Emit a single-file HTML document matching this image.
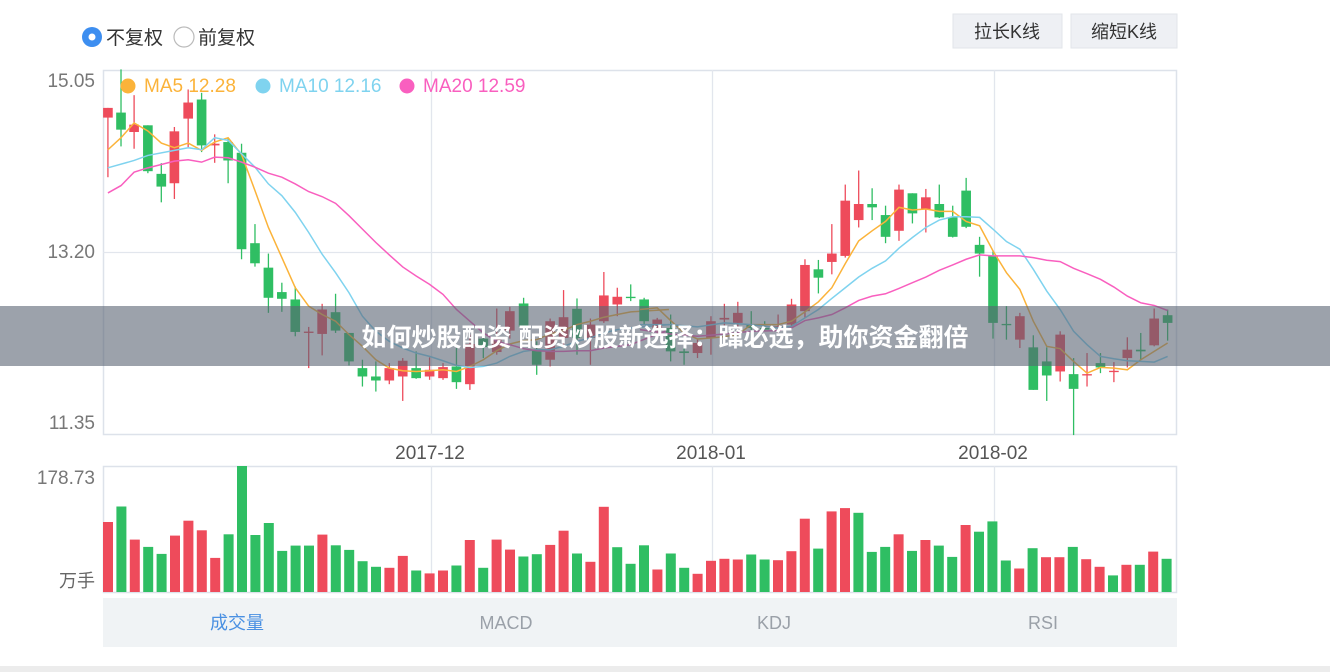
<!DOCTYPE html>
<html><head><meta charset="utf-8"><style>
body{margin:0;width:1330px;height:672px;background:#fff;overflow:hidden;font-family:"Liberation Sans","Noto Sans CJK SC",sans-serif;}
svg{position:absolute;left:0;top:0}
.r{fill:#ee4b5b;stroke:#ee4b5b}
.g{fill:#2fbe63;stroke:#2fbe63}
line{vector-effect:non-scaling-stroke;stroke-width:1.3}
rect.c{vector-effect:non-scaling-stroke;stroke-width:0}
polyline{fill:none;vector-effect:non-scaling-stroke;stroke-width:1.5}
</style></head><body>
<svg width="1330" height="672" viewBox="0 0 1330 672" font-family="Liberation Sans, Noto Sans CJK SC, sans-serif">
<circle cx="92" cy="37" r="10" fill="#3d8ef0"/><circle cx="92" cy="37" r="3.5" fill="#fff"/>
<text x="106" y="44" font-size="19" fill="#333">不复权</text>
<circle cx="184" cy="37" r="10" fill="#fff" stroke="#bbb" stroke-width="1.2"/>
<text x="198" y="44" font-size="19" fill="#333">前复权</text>
<rect x="953" y="14" width="109" height="34" fill="#eef0f4" stroke="#e2e5ea"/>
<text x="1007" y="38" font-size="18" fill="#333" text-anchor="middle">拉长K线</text>
<rect x="1071" y="14" width="106" height="34" fill="#eef0f4" stroke="#e2e5ea"/>
<text x="1124" y="38" font-size="18" fill="#333" text-anchor="middle">缩短K线</text>
<rect x="103.5" y="70.5" width="1073" height="364" fill="none" stroke="#dde2ea" stroke-width="1.5"/>
<line x1="103" y1="252.5" x2="1177" y2="252.5" stroke="#e2e6ed"/>
<line x1="431.5" y1="70" x2="431.5" y2="435" stroke="#e2e6ed"/>
<line x1="712.5" y1="70" x2="712.5" y2="435" stroke="#e2e6ed"/>
<line x1="994.5" y1="70" x2="994.5" y2="435" stroke="#e2e6ed"/>
<g font-size="19" fill="#777" text-anchor="end">
<text x="95" y="87">15.05</text><text x="95" y="258">13.20</text><text x="95" y="429">11.35</text>
</g>
<g font-size="19" fill="#555" text-anchor="middle">
<text x="430" y="459">2017-12</text><text x="711" y="459">2018-01</text><text x="993" y="459">2018-02</text>
</g>
<g transform="translate(100,60) scale(0.3444,0.3349)">
<line class="r" x1="23" x2="23" y1="143" y2="350"/><rect class="r c" x="9" y="143" width="28" height="29"/>
<line class="g" x1="61" x2="61" y1="28" y2="258"/><rect class="g c" x="47" y="157" width="28" height="51"/>
<line class="r" x1="99" x2="99" y1="105" y2="265"/><rect class="r c" x="85" y="193" width="28" height="22"/>
<line class="g" x1="139" x2="139" y1="195" y2="338"/><rect class="g c" x="125" y="195" width="28" height="137"/>
<line class="g" x1="178" x2="178" y1="308" y2="425"/><rect class="g c" x="164" y="340" width="28" height="38"/>
<line class="r" x1="216" x2="216" y1="200" y2="415"/><rect class="r c" x="202" y="213" width="28" height="155"/>
<line class="r" x1="256" x2="256" y1="88" y2="260"/><rect class="r c" x="242" y="127" width="28" height="48"/>
<line class="g" x1="295" x2="295" y1="98" y2="275"/><rect class="g c" x="281" y="118" width="28" height="137"/>
<line class="r" x1="333" x2="333" y1="222" y2="307"/><rect class="r c" x="319" y="250" width="28" height="5"/>
<line class="g" x1="372" x2="372" y1="232" y2="368"/><rect class="g c" x="358" y="245" width="28" height="55"/>
<line class="g" x1="411" x2="411" y1="250" y2="595"/><rect class="g c" x="397" y="277" width="28" height="288"/>
<line class="g" x1="450" x2="450" y1="490" y2="617"/><rect class="g c" x="436" y="547" width="28" height="60"/>
<line class="g" x1="489" x2="489" y1="578" y2="755"/><rect class="g c" x="475" y="620" width="28" height="90"/>
<line class="g" x1="528" x2="528" y1="665" y2="752"/><rect class="g c" x="514" y="693" width="28" height="20"/>
<line class="g" x1="567" x2="567" y1="677" y2="825"/><rect class="g c" x="553" y="715" width="28" height="97"/>
<line class="r" x1="606" x2="606" y1="797" y2="920"/><rect class="r c" x="592" y="811" width="28" height="4"/>
<line class="r" x1="645" x2="645" y1="728" y2="882"/><rect class="r c" x="631" y="745" width="28" height="73"/>
<line class="g" x1="684" x2="684" y1="698" y2="815"/><rect class="g c" x="670" y="753" width="28" height="55"/>
<line class="g" x1="723" x2="723" y1="815" y2="912"/><rect class="g c" x="709" y="815" width="28" height="85"/>
<line class="g" x1="762" x2="762" y1="895" y2="975"/><rect class="g c" x="748" y="920" width="28" height="25"/>
<line class="g" x1="801" x2="801" y1="900" y2="990"/><rect class="g c" x="787" y="945" width="28" height="12"/>
<line class="r" x1="840" x2="840" y1="905" y2="968"/><rect class="r c" x="826" y="920" width="28" height="37"/>
<line class="r" x1="879" x2="879" y1="890" y2="1018"/><rect class="r c" x="865" y="898" width="28" height="47"/>
<line class="g" x1="918" x2="918" y1="870" y2="952"/><rect class="g c" x="904" y="920" width="28" height="30"/>
<line class="r" x1="957" x2="957" y1="888" y2="955"/><rect class="r c" x="943" y="925" width="28" height="20"/>
<line class="r" x1="996" x2="996" y1="905" y2="955"/><rect class="r c" x="982" y="917" width="28" height="33"/>
<line class="g" x1="1035" x2="1035" y1="860" y2="982"/><rect class="g c" x="1021" y="915" width="28" height="47"/>
<line class="r" x1="1074" x2="1074" y1="820" y2="985"/><rect class="r c" x="1060" y="848" width="28" height="120"/>
<line class="g" x1="1113" x2="1113" y1="830" y2="890"/><rect class="g c" x="1099" y="832" width="28" height="25"/>
<line class="r" x1="1152" x2="1152" y1="742" y2="880"/><rect class="r c" x="1138" y="835" width="28" height="37"/>
<line class="r" x1="1190" x2="1190" y1="737" y2="832"/><rect class="r c" x="1176" y="750" width="28" height="58"/>
<line class="g" x1="1230" x2="1230" y1="710" y2="800"/><rect class="g c" x="1216" y="727" width="28" height="70"/>
<line class="g" x1="1268" x2="1268" y1="840" y2="940"/><rect class="g c" x="1254" y="868" width="28" height="42"/>
<line class="r" x1="1307" x2="1307" y1="772" y2="915"/><rect class="r c" x="1293" y="780" width="28" height="115"/>
<line class="r" x1="1346" x2="1346" y1="687" y2="850"/><rect class="r c" x="1332" y="768" width="28" height="62"/>
<line class="g" x1="1385" x2="1385" y1="712" y2="880"/><rect class="g c" x="1371" y="743" width="28" height="87"/>
<line class="r" x1="1424" x2="1424" y1="772" y2="910"/><rect class="r c" x="1410" y="790" width="28" height="40"/>
<line class="r" x1="1463" x2="1463" y1="633" y2="785"/><rect class="r c" x="1449" y="703" width="28" height="77"/>
<line class="r" x1="1502" x2="1502" y1="680" y2="765"/><rect class="r c" x="1488" y="707" width="28" height="23"/>
<line class="g" x1="1541" x2="1541" y1="670" y2="720"/><rect class="g c" x="1527" y="707" width="28" height="4"/>
<polyline stroke="#fbb33a" points="23,268 61,232 99,188 139,212 178,248 216,262 256,248 295,270 333,245 372,232 411,282 450,390 489,500 528,590 567,680 606,735 645,760 684,780 723,820 762,855 801,895 840,920 879,928 918,930 957,928 996,925 1035,930 1074,915 1113,895 1152,868 1190,848 1230,838 1268,835 1307,818 1346,808 1385,790 1424,780 1463,768 1502,760 1541,752 1652,745"/>
<polyline stroke="#7fd3ef" points="23,322 99,300 139,285 216,270 256,262 295,268 333,232 372,240 411,280 450,320 489,370 528,405 567,455 606,515 645,580 684,635 723,695 762,765 801,810 840,840 879,860 918,875 957,885 996,898 1035,912 1074,918 1113,915 1152,905 1190,885 1230,870 1268,865 1307,865 1346,855 1385,840 1424,830 1463,815 1502,805 1541,800 1652,790"/>
<polyline stroke="#f95fbf" points="23,397 61,375 99,335 139,322 178,312 216,302 256,298 295,305 333,290 372,292 411,305 450,320 489,338 528,350 567,370 606,393 645,408 684,428 723,465 762,505 801,545 840,582 879,618 918,645 957,670 996,700 1035,745 1074,780 1113,815 1152,840 1190,850 1230,862 1268,868 1307,870 1346,870 1385,868 1424,868 1463,860 1502,855 1541,850 1652,805"/>
</g>
<g transform="translate(640,60) scale(0.3444,0.3349)">
<line class="g" x1="12" x2="12" y1="710" y2="790"/><rect class="g c" x="-2" y="715" width="28" height="65"/>
<line class="r" x1="50" x2="50" y1="770" y2="830"/><rect class="r c" x="36" y="775" width="28" height="25"/>
<line class="g" x1="89" x2="89" y1="760" y2="900"/><rect class="g c" x="75" y="800" width="28" height="70"/>
<line class="g" x1="128" x2="128" y1="855" y2="910"/><rect class="g c" x="114" y="870" width="28" height="5"/>
<line class="r" x1="167" x2="167" y1="835" y2="890"/><rect class="r c" x="153" y="845" width="28" height="30"/>
<line class="r" x1="206" x2="206" y1="765" y2="880"/><rect class="r c" x="192" y="780" width="28" height="50"/>
<line class="r" x1="245" x2="245" y1="728" y2="795"/><rect class="r c" x="231" y="770" width="28" height="5"/>
<line class="r" x1="284" x2="284" y1="722" y2="800"/><rect class="r c" x="270" y="755" width="28" height="30"/>
<line class="g" x1="323" x2="323" y1="750" y2="830"/><rect class="g c" x="309" y="790" width="28" height="10"/>
<line class="g" x1="362" x2="362" y1="780" y2="810"/><rect class="g c" x="348" y="800" width="28" height="5"/>
<line class="r" x1="401" x2="401" y1="760" y2="815"/><rect class="r c" x="387" y="795" width="28" height="5"/>
<line class="r" x1="440" x2="440" y1="713" y2="795"/><rect class="r c" x="426" y="730" width="28" height="60"/>
<line class="r" x1="479" x2="479" y1="595" y2="770"/><rect class="r c" x="465" y="612" width="28" height="138"/>
<line class="g" x1="518" x2="518" y1="597" y2="697"/><rect class="g c" x="504" y="625" width="28" height="25"/>
<line class="r" x1="557" x2="557" y1="490" y2="640"/><rect class="r c" x="543" y="578" width="28" height="25"/>
<line class="r" x1="596" x2="596" y1="372" y2="590"/><rect class="r c" x="582" y="420" width="28" height="165"/>
<line class="r" x1="635" x2="635" y1="330" y2="500"/><rect class="r c" x="621" y="430" width="28" height="48"/>
<line class="g" x1="674" x2="674" y1="383" y2="478"/><rect class="g c" x="660" y="430" width="28" height="10"/>
<line class="g" x1="713" x2="713" y1="435" y2="547"/><rect class="g c" x="699" y="463" width="28" height="65"/>
<line class="r" x1="752" x2="752" y1="372" y2="540"/><rect class="r c" x="738" y="387" width="28" height="123"/>
<line class="g" x1="791" x2="791" y1="398" y2="488"/><rect class="g c" x="777" y="398" width="28" height="60"/>
<line class="r" x1="830" x2="830" y1="385" y2="515"/><rect class="r c" x="816" y="410" width="28" height="35"/>
<line class="g" x1="869" x2="869" y1="372" y2="472"/><rect class="g c" x="855" y="430" width="28" height="40"/>
<line class="g" x1="908" x2="908" y1="435" y2="530"/><rect class="g c" x="894" y="470" width="28" height="58"/>
<line class="g" x1="947" x2="947" y1="352" y2="502"/><rect class="g c" x="933" y="390" width="28" height="108"/>
<line class="g" x1="986" x2="986" y1="528" y2="647"/><rect class="g c" x="972" y="552" width="28" height="26"/>
<line class="g" x1="1025" x2="1025" y1="570" y2="832"/><rect class="g c" x="1011" y="585" width="28" height="200"/>
<line class="g" x1="1064" x2="1064" y1="735" y2="835"/><rect class="g c" x="1050" y="788" width="28" height="4"/>
<line class="r" x1="1103" x2="1103" y1="755" y2="860"/><rect class="r c" x="1089" y="765" width="28" height="70"/>
<line class="g" x1="1142" x2="1142" y1="822" y2="985"/><rect class="g c" x="1128" y="858" width="28" height="127"/>
<line class="g" x1="1181" x2="1181" y1="858" y2="1018"/><rect class="g c" x="1167" y="900" width="28" height="42"/>
<line class="r" x1="1220" x2="1220" y1="810" y2="960"/><rect class="r c" x="1206" y="820" width="28" height="110"/>
<line class="g" x1="1259" x2="1259" y1="890" y2="1120"/><rect class="g c" x="1245" y="938" width="28" height="44"/>
<line class="r" x1="1298" x2="1298" y1="875" y2="975"/><rect class="r c" x="1284" y="938" width="28" height="4"/>
<line class="g" x1="1337" x2="1337" y1="875" y2="935"/><rect class="g c" x="1323" y="905" width="28" height="13"/>
<line class="r" x1="1376" x2="1376" y1="902" y2="962"/><rect class="r c" x="1362" y="928" width="28" height="4"/>
<line class="r" x1="1415" x2="1415" y1="828" y2="918"/><rect class="r c" x="1401" y="865" width="28" height="25"/>
<line class="g" x1="1454" x2="1454" y1="815" y2="895"/><rect class="g c" x="1440" y="865" width="28" height="5"/>
<line class="r" x1="1493" x2="1493" y1="742" y2="855"/><rect class="r c" x="1479" y="772" width="28" height="80"/>
<line class="g" x1="1532" x2="1532" y1="745" y2="838"/><rect class="g c" x="1518" y="762" width="28" height="23"/>
<polyline stroke="#fbb33a" points="0,745 50,740 89,778 128,815 167,833 206,830 245,826 284,820 323,790 362,790 401,790 440,780 479,752 518,722 557,680 596,608 635,540 674,510 713,482 752,440 791,448 830,445 869,452 908,452 947,482 986,495 1025,570 1064,635 1103,685 1142,780 1181,855 1220,862 1259,900 1298,935 1337,918 1376,920 1415,925 1454,895 1493,870 1532,845"/>
<polyline stroke="#7fd3ef" points="0,790 89,790 167,797 245,785 323,790 401,800 440,795 479,770 518,745 557,712 596,680 635,648 674,622 713,600 752,562 791,530 830,500 869,478 908,468 947,468 986,470 1025,505 1064,542 1103,565 1142,625 1181,690 1220,745 1259,810 1298,850 1337,885 1376,892 1415,898 1454,900 1493,902 1532,885"/>
<polyline stroke="#f95fbf" points="0,805 89,818 167,825 245,818 323,810 401,808 440,800 479,778 518,770 557,760 596,740 635,718 674,705 713,698 752,682 791,665 830,648 869,628 908,612 947,595 986,582 1025,585 1064,585 1103,585 1142,590 1181,598 1220,602 1259,622 1298,638 1337,655 1376,678 1415,705 1454,725 1493,733 1532,748"/>
</g>
<circle cx="128" cy="86" r="7.5" fill="#fbb33a"/><text x="144" y="92" font-size="19" fill="#fbb33a">MA5 12.28</text>
<circle cx="263" cy="86" r="7.5" fill="#7fd3ef"/><text x="279" y="92" font-size="19" fill="#7fd3ef">MA10 12.16</text>
<circle cx="407" cy="86" r="7.5" fill="#f95fbf"/><text x="423" y="92" font-size="19" fill="#f95fbf">MA20 12.59</text>
<rect x="103.5" y="466.5" width="1073" height="126" fill="none" stroke="#dde2ea" stroke-width="1.5"/>
<line x1="431.5" y1="466" x2="431.5" y2="592" stroke="#e2e6ed"/>
<line x1="712.5" y1="466" x2="712.5" y2="592" stroke="#e2e6ed"/>
<line x1="994.5" y1="466" x2="994.5" y2="592" stroke="#e2e6ed"/>
<text x="95" y="484" font-size="19" fill="#777" text-anchor="end">178.73</text>
<text x="95" y="587" font-size="18" fill="#666" text-anchor="end">万手</text>
<g transform="translate(0,592) scale(1,-1)">
<rect x="103" width="10" height="70" fill="#ee4b5b"/><rect x="116.4" width="10" height="85.5" fill="#2fbe63"/><rect x="129.8" width="10" height="52.4" fill="#ee4b5b"/><rect x="143.2" width="10" height="45.1" fill="#2fbe63"/><rect x="156.6" width="10" height="38.1" fill="#2fbe63"/><rect x="170" width="10" height="56.4" fill="#ee4b5b"/><rect x="183.4" width="10" height="71.3" fill="#ee4b5b"/><rect x="196.8" width="10" height="61.7" fill="#ee4b5b"/><rect x="210.2" width="10" height="34.1" fill="#ee4b5b"/><rect x="223.6" width="10" height="57.7" fill="#2fbe63"/>
<rect x="237" width="10" height="126" fill="#2fbe63"/><rect x="250.4" width="10" height="57" fill="#2fbe63"/><rect x="263.8" width="10" height="69" fill="#2fbe63"/><rect x="277.2" width="10" height="41.1" fill="#2fbe63"/><rect x="290.6" width="10" height="46.4" fill="#2fbe63"/><rect x="304" width="10" height="46.4" fill="#2fbe63"/><rect x="317.4" width="10" height="57.4" fill="#ee4b5b"/><rect x="330.8" width="10" height="46.7" fill="#2fbe63"/><rect x="344.2" width="10" height="42.1" fill="#2fbe63"/><rect x="357.6" width="10" height="30.8" fill="#2fbe63"/>
<rect x="371" width="10" height="25.2" fill="#2fbe63"/><rect x="384.4" width="10" height="24.2" fill="#ee4b5b"/><rect x="397.8" width="10" height="36.1" fill="#ee4b5b"/><rect x="411.2" width="10" height="21.5" fill="#2fbe63"/><rect x="424.6" width="10" height="18.6" fill="#ee4b5b"/><rect x="438" width="10" height="21.5" fill="#ee4b5b"/><rect x="451.4" width="10" height="26.5" fill="#2fbe63"/><rect x="464.8" width="10" height="52" fill="#ee4b5b"/><rect x="478.2" width="10" height="24.2" fill="#2fbe63"/><rect x="491.6" width="10" height="52.4" fill="#ee4b5b"/>
<rect x="505" width="10" height="42.4" fill="#ee4b5b"/><rect x="518.4" width="10" height="35.5" fill="#2fbe63"/><rect x="531.8" width="10" height="37.8" fill="#2fbe63"/><rect x="545.2" width="10" height="47.1" fill="#ee4b5b"/><rect x="558.6" width="10" height="61.3" fill="#ee4b5b"/><rect x="572" width="10" height="38.5" fill="#2fbe63"/><rect x="585.4" width="10" height="30.2" fill="#ee4b5b"/><rect x="598.8" width="10" height="85.2" fill="#ee4b5b"/><rect x="612.2" width="10" height="44.8" fill="#2fbe63"/><rect x="625.6" width="10" height="28.2" fill="#2fbe63"/>
<rect x="639" width="10" height="46.7" fill="#2fbe63"/><rect x="652.4" width="10" height="22.5" fill="#ee4b5b"/><rect x="665.8" width="10" height="38.5" fill="#2fbe63"/><rect x="679.2" width="10" height="24.2" fill="#2fbe63"/><rect x="692.6" width="10" height="18.2" fill="#ee4b5b"/><rect x="706" width="10" height="31.2" fill="#ee4b5b"/><rect x="719.4" width="10" height="33.2" fill="#ee4b5b"/><rect x="732.8" width="10" height="32.5" fill="#ee4b5b"/><rect x="746.2" width="10" height="37.5" fill="#2fbe63"/><rect x="759.6" width="10" height="32.5" fill="#2fbe63"/>
<rect x="773" width="10" height="31.8" fill="#ee4b5b"/><rect x="786.4" width="10" height="40.8" fill="#ee4b5b"/><rect x="799.8" width="10" height="73.3" fill="#ee4b5b"/><rect x="813.2" width="10" height="43.4" fill="#2fbe63"/><rect x="826.6" width="10" height="80.6" fill="#ee4b5b"/><rect x="840" width="10" height="83.9" fill="#ee4b5b"/><rect x="853.4" width="10" height="79.2" fill="#2fbe63"/><rect x="866.8" width="10" height="40.1" fill="#2fbe63"/><rect x="880.2" width="10" height="45.1" fill="#2fbe63"/><rect x="893.6" width="10" height="57.7" fill="#ee4b5b"/>
<rect x="907" width="10" height="41.1" fill="#2fbe63"/><rect x="920.4" width="10" height="52" fill="#ee4b5b"/><rect x="933.8" width="10" height="46.4" fill="#2fbe63"/><rect x="947.2" width="10" height="35.1" fill="#2fbe63"/><rect x="960.6" width="10" height="67" fill="#ee4b5b"/><rect x="974" width="10" height="60.3" fill="#2fbe63"/><rect x="987.4" width="10" height="70.6" fill="#2fbe63"/><rect x="1000.8" width="10" height="31.5" fill="#2fbe63"/><rect x="1014.2" width="10" height="23.5" fill="#ee4b5b"/><rect x="1027.6" width="10" height="43.8" fill="#2fbe63"/>
<rect x="1041" width="10" height="34.8" fill="#ee4b5b"/><rect x="1054.4" width="10" height="34.8" fill="#ee4b5b"/><rect x="1067.8" width="10" height="45.1" fill="#2fbe63"/><rect x="1081.2" width="10" height="32.8" fill="#ee4b5b"/><rect x="1094.6" width="10" height="25.2" fill="#ee4b5b"/><rect x="1108" width="10" height="16.6" fill="#2fbe63"/><rect x="1121.4" width="10" height="27.2" fill="#ee4b5b"/><rect x="1134.8" width="10" height="27.2" fill="#2fbe63"/><rect x="1148.2" width="10" height="40.4" fill="#ee4b5b"/><rect x="1161.6" width="10" height="33.2" fill="#2fbe63"/>
</g>
<rect x="103" y="598" width="1074" height="49" fill="#f0f3f5"/>
<g font-size="18" text-anchor="middle">
<text x="237" y="629" fill="#4a90e2">成交量</text>
<text x="506" y="629" fill="#9aa0a8">MACD</text>
<text x="774" y="629" fill="#9aa0a8">KDJ</text>
<text x="1043" y="629" fill="#9aa0a8">RSI</text>
</g>
<rect x="0" y="666" width="1330" height="6" fill="#ececec"/>
<rect x="0" y="306" width="1330" height="60" fill="rgba(90,100,115,0.6)"/>
<text x="665" y="346" font-size="25" font-weight="bold" fill="#fff" text-anchor="middle">如何炒股配资 配资炒股新选择：蹿必选，助你资金翻倍</text>
</svg>
</body></html>
